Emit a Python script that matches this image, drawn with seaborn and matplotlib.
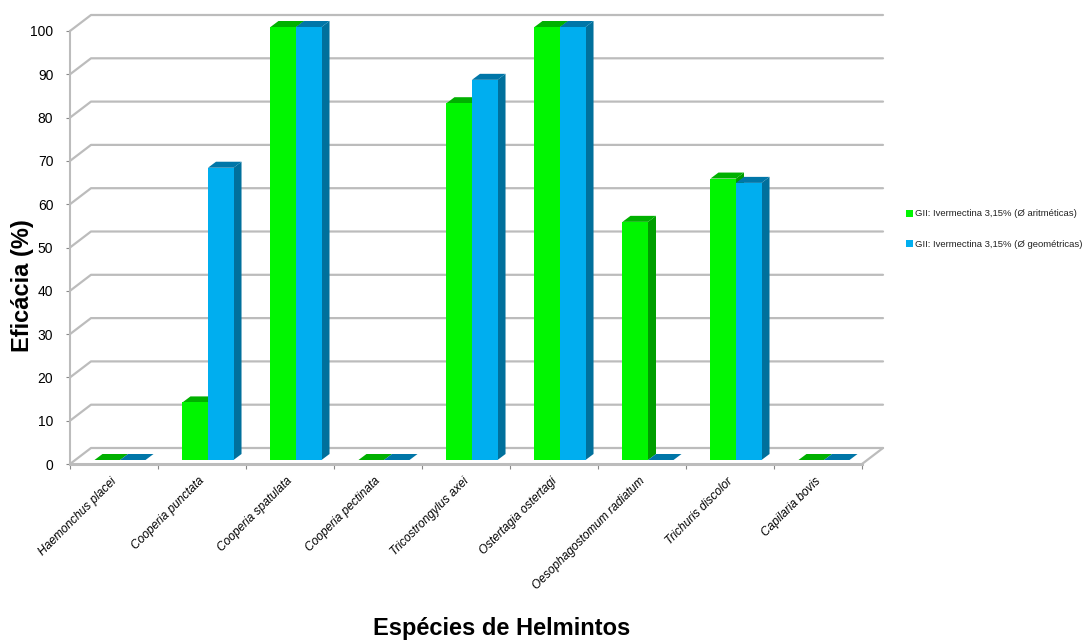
import matplotlib
matplotlib.use("Agg")
import matplotlib.pyplot as plt
from matplotlib.patches import Polygon
from matplotlib.transforms import Affine2D
from matplotlib.ticker import FixedLocator
import pandas as pd
import seaborn as sns

species = ["Haemonchus placei", "Cooperia punctata", "Cooperia spatulata",
           "Cooperia pectinata", "Tricostrongylus axei", "Ostertagia ostertagi",
           "Oesophagostomum radiatum", "Trichuris discolor", "Capilaria bovis"]
aritmeticas = [0, 13.3, 100, 0, 82.4, 100, 55, 65, 0]
geometricas = [0, 67.5, 100, 0, 87.8, 100, 0, 64, 0]
serie_a = "GII: Ivermectina 3,15% (Ø aritméticas)"
serie_g = "GII: Ivermectina 3,15% (Ø geométricas)"
y_ticks = list(range(0, 101, 10))

GREEN, BLUE = "#00f500", "#00aeef"
GREEN_TOP, BLUE_TOP = "#00b000", "#0076a8"
GREEN_SIDE, BLUE_SIDE = "#009e00", "#00709c"
GRID = "#bcbcbc"

df = pd.DataFrame({
    "especie": species * 2,
    "eficacia": aritmeticas + geometricas,
    "serie": [serie_a] * len(species) + [serie_g] * len(species),
})

sns.set_theme(style="white")
plt.rcParams["font.family"] = ["Liberation Sans", "DejaVu Sans"]

W, H = 1089, 641
fig = plt.figure(figsize=(W / 100, H / 100), dpi=100, facecolor="white")
ax = fig.add_axes([70 / W, (H - 464) / H, 792 / W, 433 / H])

sns.barplot(data=df, x="especie", y="eficacia", hue="serie", order=species,
            hue_order=[serie_a, serie_g], palette=[GREEN, BLUE], width=0.58,
            gap=0, saturation=1, ax=ax, zorder=3, linewidth=0)
ax.set_xlim(-0.5, 8.5)
ax.set_ylim(0, 100)

# Pixel sizes of the oblique projection
px_x = 792 / 9
px_y = 433 / 100
wall_dx, wall_dy = 21 / px_x, 16 / px_y
bar_dx, bar_dy = 8 / px_x, 6 / px_y
shift = ax.transData + Affine2D().translate(6, 4)

# Back wall gridlines with their oblique run to the front plane
for v in y_ticks:
    ax.plot([-0.5, -0.5 + wall_dx, 8.5 + wall_dx], [v, v + wall_dy, v + wall_dy],
            color=GRID, lw=1.6, clip_on=False, zorder=1)
ax.plot([8.5, 8.5 + wall_dx], [0, wall_dy], color=GRID, lw=1.6, clip_on=False, zorder=1)

# Extrude each bar: side face and top face
bars = [p for p in ax.patches if p.get_width() > 0]
for i, p in enumerate(bars):
    first = i < len(species)
    x0, w, h = p.get_x(), p.get_width(), p.get_height()
    order = 3 if first else 4
    p.set_transform(shift)
    p.set_clip_on(False)
    p.set_zorder(order + 0.2)
    side = Polygon([(x0 + w, 0), (x0 + w + bar_dx, bar_dy),
                    (x0 + w + bar_dx, h + bar_dy), (x0 + w, h)],
                   facecolor=GREEN_SIDE if first else BLUE_SIDE, lw=0,
                   transform=shift, clip_on=False, zorder=order)
    top = Polygon([(x0, h), (x0 + bar_dx, h + bar_dy),
                   (x0 + w + bar_dx, h + bar_dy), (x0 + w, h)],
                  facecolor=GREEN_TOP if first else BLUE_TOP, lw=0,
                  transform=shift, clip_on=False, zorder=order + 0.1)
    ax.add_patch(side)
    ax.add_patch(top)

for s in ["top", "right"]:
    ax.spines[s].set_visible(False)
for s in ["left", "bottom"]:
    ax.spines[s].set_color(GRID)
ax.spines["left"].set_linewidth(1.5)
ax.spines["bottom"].set_linewidth(2.2)
ax.spines["bottom"].set_zorder(2)

ax.set_yticks(y_ticks)
# Labels sit a little left of the category centres
ax.set_xticks([k - 3.5 / px_x for k in range(len(species))])
ax.set_xticklabels(species, rotation=45, ha="right", rotation_mode="anchor",
                   fontsize=8.6, style="italic", color="black")
ax.xaxis.set_minor_locator(FixedLocator([k - 0.5 for k in range(len(species) + 1)]))
ax.tick_params(axis="x", which="major", length=0, pad=8)
ax.tick_params(axis="x", which="minor", bottom=True, length=3.5, width=0.8, color="#888888")
ax.tick_params(axis="y", left=True, length=3, width=0.8, color="#888888",
               labelsize=10, labelcolor="black", pad=9)

ax.set_xlabel("Espécies de Helmintos", fontsize=17, fontweight="bold", color="black",
              va="center")
ax.xaxis.set_label_coords(0.545, -0.38)
ax.set_ylabel("Eficácia (%)", fontsize=17, fontweight="bold", color="black", va="center")
ax.yaxis.set_label_coords(-0.06, 0.413)

leg = ax.legend(loc="center left", bbox_to_anchor=(901.5 / W, (H - 229) / H),
                bbox_transform=fig.transFigure, frameon=False, fontsize=6.8,
                handlelength=0.75, handleheight=0.75, handletextpad=0.2,
                labelspacing=2.25, borderpad=0, title=None)
for t in leg.get_texts():
    t.set_color("#222222")

fig.savefig("out.png", dpi=100, facecolor="white")
